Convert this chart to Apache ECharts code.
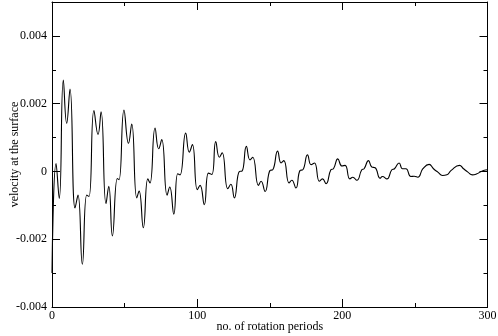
<!DOCTYPE html>
<html><head><meta charset="utf-8">
<script src="https://cdn.jsdelivr.net/npm/echarts@6/dist/echarts.min.js"></script>
<style>html,body{margin:0;padding:0;background:#fff}#c{width:498px;height:336px}</style>
</head><body><div id="c"></div>
<script>
const periods = [0, 2.8, 5.0, 7.8, 10.1, 12.4, 15.9, 17.9, 20.9, 23.9, 25.5, 28.9, 31.7, 33.8, 37.2, 39.1, 41.6, 45.0, 46.2, 49.6, 52.7, 54.9, 58.4, 60.0, 62.9, 66.0, 67.5, 71.0, 73.5, 75.6, 79.3, 81.1, 83.9, 86.6, 88.2, 92.1, 94.6, 96.7, 100.1, 102.0, 104.9, 107.8, 110.1, 112.8, 115.3, 117.2, 121.1, 123.2, 125.6, 129.1, 130.9, 133.9, 136.4, 138.3, 142.2, 144.0, 146.8, 150.2, 152.1, 155.4, 157.8, 159.7, 163.3, 165.2, 168.0, 170.9, 172.8, 176.0, 178.5, 180.8, 184.2, 186.3, 188.8, 192.1, 193.9, 196.9, 199.7, 201.9, 205.2, 207.2, 210.0, 213.4, 215.0, 218.0, 220.3, 222.6, 226.0, 227.6, 230.7, 234.1, 235.9, 239.1, 241.4, 243.8, 247.2, 249.5, 252.0, 255.5, 259.8, 262.8, 265.8, 269.0, 272.0, 275.0, 280.7, 283.5, 286.5, 289.6, 292.7, 294.9, 297.2, 300];
const velocity = [-0.00300, 0.00023, -0.00080, 0.00270, 0.00142, 0.00243, -0.00108, -0.00070, -0.00274, -0.00070, -0.00074, 0.00180, 0.00109, 0.00176, -0.00095, -0.00044, -0.00190, -0.00021, -0.00024, 0.00181, 0.00083, 0.00140, -0.00078, -0.00058, -0.00166, -0.00022, -0.00034, 0.00128, 0.00067, 0.00094, -0.00070, -0.00046, -0.00126, -0.00007, -0.00010, 0.00113, 0.00057, 0.00079, -0.00054, -0.00041, -0.00098, -0.00005, -0.00009, 0.00088, 0.00042, 0.00055, -0.00051, -0.00038, -0.00078, 0.00000, 0.00001, 0.00074, 0.00034, 0.00042, -0.00041, -0.00029, -0.00059, 0.00003, 0.00005, 0.00060, 0.00025, 0.00032, -0.00034, -0.00026, -0.00049, 0.00003, 0.00005, 0.00049, 0.00020, 0.00025, -0.00029, -0.00022, -0.00036, 0.00005, 0.00008, 0.00037, 0.00016, 0.00018, -0.00022, -0.00017, -0.00026, 0.00005, 0.00008, 0.00032, 0.00013, 0.00011, -0.00020, -0.00015, -0.00022, 0.00005, 0.00008, 0.00025, 0.00008, 0.00008, -0.00015, -0.00014, -0.00017, 0.00008, 0.00021, 0.00008, -0.00002, -0.00012, -0.00010, 0.00003, 0.00018, 0.00008, -0.00002, -0.00010, -0.00007, -0.00002, 0.00003, 0.00005];
const xMin = 0, xMax = 300, xStep = 100;
const yMin = -0.004, yMax = 0.005, yStep = 0.002, yMinorStep = 0.001;
const xTitle = 'no. of rotation periods';
const yTitle = 'velocity at the surface';

const font = 'Liberation Serif, Times New Roman, serif';
const black = '#000';
const line = {show: true, onZero: false, lineStyle: {color: black, width: 1}};
function xAx(pos, labels) {
  return {
    type: 'value', position: pos, min: xMin, max: xMax, interval: xStep,
    axisLine: line,
    axisTick: {show: true, inside: true, length: 8, lineStyle: {color: black}},
    minorTick: {show: true, splitNumber: 2, length: 4, lineStyle: {color: black}},
    axisLabel: {show: labels, fontFamily: font, fontSize: 12, color: black, margin: 3},
    splitLine: {show: false}, minorSplitLine: {show: false},
    name: labels ? xTitle : '', nameLocation: 'middle', nameGap: 14, nameMoveOverlap: false,
    nameTextStyle: {fontFamily: font, fontSize: 12, color: black}
  };
}
function yAx(pos, step, len, labels, showLine) {
  return {
    type: 'value', position: pos, min: yMin, max: yMax, interval: step,
    axisLine: showLine ? line : {show: false, onZero: false},
    axisTick: {show: true, inside: true, length: len, lineStyle: {color: black}},
    axisLabel: {show: labels, showMaxLabel: false, fontFamily: font, fontSize: 12, color: black, margin: 5},
    splitLine: {show: false},
    name: labels ? yTitle : '', nameLocation: 'middle', nameGap: 31, nameMoveOverlap: false,
    nameTextStyle: {fontFamily: font, fontSize: 12, color: black}
  };
}
const chart = echarts.init(document.getElementById('c'), null, {renderer: 'canvas'});
chart.setOption({
  animation: false,
  backgroundColor: '#fff',
  grid: {left: 52, right: 10.5, top: 2, bottom: 29, containLabel: false, outerBoundsMode: 'none'},
  xAxis: [xAx('bottom', true), xAx('top', false)],
  yAxis: [
    yAx('left', yStep, 8, true, true),
    yAx('left', yMinorStep, 4, false, false),
    yAx('right', yStep, 8, false, true),
    yAx('right', yMinorStep, 4, false, false)
  ],
  series: [{
    type: 'line', xAxisIndex: 0, yAxisIndex: 0,
    data: periods.map((p, i) => [p, velocity[i]]),
    showSymbol: false, smooth: 0.5,
    lineStyle: {color: black, width: 1.1}
  }]
});
</script></body></html>
